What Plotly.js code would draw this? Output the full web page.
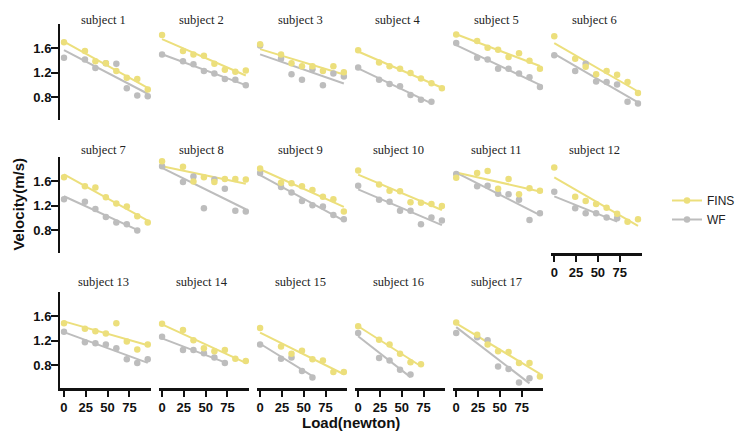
<!DOCTYPE html>
<html>
<head>
<meta charset="utf-8">
<script src="https://cdn.plot.ly/plotly-3.0.1.min.js"></script>
<style>
  html, body { margin: 0; padding: 0; background: #ffffff; }
  #chart { width: 740px; height: 433px; }
</style>
</head>
<body>
<div id="chart"></div>
<script>
// ---------------- data ----------------
const subjectNames = ['subject 1','subject 2','subject 3','subject 4','subject 5','subject 6',
  'subject 7','subject 8','subject 9','subject 10','subject 11','subject 12',
  'subject 13','subject 14','subject 15','subject 16','subject 17'];

// load levels (newton); a subject uses the first N levels
const loads = [0, 24, 36, 48, 60, 72, 84, 96];

// velocity (m/s) with FINS, one row per subject
const finsVel = [
  [1.70, 1.56, 1.39, 1.36, 1.23, 1.12, 1.10, 0.93],
  [1.82, 1.56, 1.50, 1.48, 1.35, 1.25, 1.22, 1.24],
  [1.67, 1.50, 1.36, 1.31, 1.31, 1.23, 1.31, 1.21],
  [1.57, 1.37, 1.31, 1.27, 1.20, 1.11, 1.03, 0.95],
  [1.83, 1.72, 1.61, 1.58, 1.46, 1.52, 1.40, 1.27],
  [1.80, 1.43, 1.30, 1.18, 1.23, 1.17, 1.05, 0.87],
  [1.67, 1.52, 1.50, 1.34, 1.24, 1.19, 1.03, 0.93],
  [1.93, 1.84, 1.60, 1.67, 1.59, 1.64, 1.64, 1.63],
  [1.81, 1.58, 1.57, 1.52, 1.46, 1.35, 1.31, 1.11],
  [1.78, 1.55, 1.45, 1.44, 1.26, 1.25, 1.23, 1.20],
  [1.66, 1.74, 1.77, 1.48, 1.64, 1.39, 1.49, 1.45],
  [1.83, 1.35, 1.28, 1.23, 1.17, 1.07, 0.94, 0.98],
  [1.49, 1.40, 1.36, 1.32, 1.49, 1.19, 1.06, 1.14],
  [1.48, 1.38, 1.21, 1.08, 1.03, 1.05, 0.91, 0.87],
  [1.41, 1.11, 0.99, 1.04, 0.90, 0.88, 0.69, 0.69],
  [1.44, 1.22, 1.14, 0.99, 0.85, 0.82],
  [1.50, 1.30, 1.14, 1.03, 1.02, 0.84, 0.84, 0.62]
];

// velocity (m/s) with WF, one row per subject
const wfVel = [
  [1.45, 1.42, 1.28, 1.36, 1.35, 0.95, 0.83, 0.82],
  [1.50, 1.39, 1.34, 1.23, 1.19, 1.10, 1.09, 1.00],
  [1.65, 1.43, 1.18, 1.09, 1.26, 1.00, 1.19, 1.14],
  [1.29, 1.09, 1.02, 0.98, 0.84, 0.76, 0.73],
  [1.69, 1.45, 1.42, 1.27, 1.27, 1.19, 1.13, 0.97],
  [1.49, 1.23, 1.35, 1.06, 1.05, 1.01, 0.73, 0.70],
  [1.31, 1.27, 1.15, 1.02, 0.93, 0.90, 0.80],
  [1.85, 1.59, 1.68, 1.16, 1.63, 1.48, 1.12, 1.11],
  [1.74, 1.51, 1.42, 1.28, 1.21, 1.19, 1.05, 0.98],
  [1.53, 1.30, 1.27, 1.12, 1.12, 0.90, 1.01, 0.96],
  [1.72, 1.52, 1.53, 1.40, 1.39, 1.30, 0.97, 1.08],
  [1.43, 1.16, 1.08, 1.08, 1.01, 1.00],
  [1.35, 1.18, 1.16, 1.14, 1.08, 0.90, 0.84, 0.90],
  [1.27, 1.05, 1.05, 1.00, 0.93, 0.84],
  [1.14, 0.91, 0.93, 0.71, 0.60],
  [1.33, 0.92, 0.88, 0.73, 0.65],
  [1.33, 1.26, 1.21, 0.78, 0.74, 0.52, 0.59]
];

const seriesNames = ['FINS', 'WF'];
const yTicks = [0.8, 1.2, 1.6];
const xTicks = [0, 25, 50, 75];
const xTitle = 'Load(newton)';
const yTitle = 'Velocity(m/s)';

// ---------------- styling / geometry ----------------
const W = 740, H = 433;
const COLORS = { FINS: '#ECDF7C', WF: '#BDBDBD' };
const colLeft = c => 62 + 100.5 * c;
const panelW = 93;
const rowTop = [24, 157, 292];
const panelH = 96;
const titleY = [20, 150, 282];
const NCOL = 6;
const tickFont = { family: 'Liberation Sans, Arial, sans-serif', size: 13, color: '#111', weight: 'bold' };

function linFit(xs, ys) {
  const n = ys.length;
  let mx = 0, my = 0;
  for (let i = 0; i < n; i++) { mx += xs[i]; my += ys[i]; }
  mx /= n; my /= n;
  let sxy = 0, sxx = 0;
  for (let i = 0; i < n; i++) { sxy += (xs[i] - mx) * (ys[i] - my); sxx += (xs[i] - mx) ** 2; }
  const b = sxy / sxx;
  return { a: my - b * mx, b };
}

const traces = [];
const layout = {
  width: W, height: H,
  margin: { l: 0, r: 0, t: 0, b: 0 },
  paper_bgcolor: '#ffffff',
  plot_bgcolor: 'rgba(0,0,0,0)',
  showlegend: true,
  legend: {
    x: 684 / W, y: 1 - 186 / H, xanchor: 'left', yanchor: 'top',
    font: { family: 'Liberation Sans, Arial, sans-serif', size: 12, color: '#222' },
    bgcolor: 'rgba(0,0,0,0)', tracegroupgap: 0
  },
  annotations: []
};

subjectNames.forEach((name, k) => {
  const r = Math.floor(k / NCOL), c = k % NCOL;
  const xa = 'x' + (k + 1), ya = 'y' + (k + 1);
  const xk = 'xaxis' + (k + 1), yk = 'yaxis' + (k + 1);
  const left = colLeft(c), top = rowTop[r];
  const showY = c === 0;
  const showX = (r === 2) || (k === 11);

  layout[xk] = {
    domain: [left / W, (left + panelW) / W],
    anchor: ya, range: [-4, 100],
    showgrid: false, zeroline: false,
    showline: showX, linecolor: '#111', linewidth: 2.5,
    ticks: showX ? 'outside' : '', ticklen: 6, tickwidth: 2, tickcolor: '#111',
    tickvals: xTicks, showticklabels: showX, tickfont: tickFont,
    fixedrange: true
  };
  layout[yk] = {
    domain: [1 - (top + panelH) / H, 1 - top / H],
    anchor: xa, range: [0.43, 2.0],
    showgrid: false, zeroline: false,
    showline: showY, linecolor: '#111', linewidth: 2.5,
    ticks: showY ? 'outside' : '', ticklen: 7, tickwidth: 2, tickcolor: '#111',
    tickvals: yTicks, ticktext: yTicks.map(v => v.toFixed(1)),
    showticklabels: showY, tickfont: tickFont, ticklabelstandoff: -3,
    fixedrange: true
  };

  const sets = [['WF', wfVel[k]], ['FINS', finsVel[k]]];
  // fitted lines
  sets.forEach(([s, vals]) => {
    const xs = loads.slice(0, vals.length);
    const f = linFit(xs, vals);
    const x0 = xs[0], x1 = xs[xs.length - 1];
    traces.push({
      type: 'scatter', mode: 'lines', xaxis: xa, yaxis: ya,
      x: [x0, x1], y: [f.a + f.b * x0, f.a + f.b * x1],
      line: { color: COLORS[s], width: 2 },
      showlegend: false, hoverinfo: 'skip'
    });
  });
  // points
  sets.forEach(([s, vals]) => {
    traces.push({
      type: 'scatter', mode: 'markers', xaxis: xa, yaxis: ya,
      x: loads.slice(0, vals.length), y: vals, name: s,
      marker: { color: COLORS[s], size: 6.5 },
      showlegend: false
    });
  });

  layout.annotations.push({
    xref: 'paper', yref: 'paper',
    x: (left + panelW / 2 - 2) / W, y: 1 - titleY[r] / H,
    xanchor: 'center', yanchor: 'middle', showarrow: false,
    text: name,
    font: { family: 'Liberation Serif, Times New Roman, serif', size: 12.5, color: '#222' }
  });
});

// legend entries
seriesNames.forEach(s => {
  traces.push({
    type: 'scatter', mode: 'lines+markers', x: [null], y: [null],
    xaxis: 'x1', yaxis: 'y1', name: s,
    line: { color: COLORS[s], width: 2 },
    marker: { color: COLORS[s], size: 6.5 },
    showlegend: true
  });
});

layout.annotations.push({
  xref: 'paper', yref: 'paper', x: 360 / W, y: 1 - 422 / H,
  xanchor: 'center', yanchor: 'middle', showarrow: false, text: xTitle,
  font: { family: 'Liberation Sans, Arial, sans-serif', size: 15, color: '#111', weight: 'bold' }
});
layout.annotations.push({
  xref: 'paper', yref: 'paper', x: 18 / W, y: 1 - 204 / H,
  xanchor: 'center', yanchor: 'middle', showarrow: false, text: yTitle, textangle: -90,
  font: { family: 'Liberation Sans, Arial, sans-serif', size: 15, color: '#111', weight: 'bold' }
});

Plotly.newPlot('chart', traces, layout, { displayModeBar: false, staticPlot: true });
</script>
</body>
</html>
